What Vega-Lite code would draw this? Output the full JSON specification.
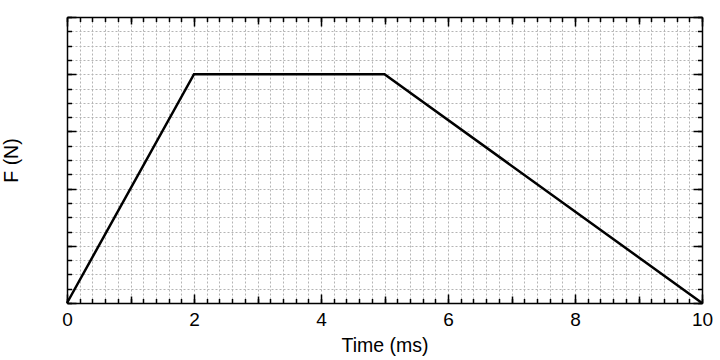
{
  "$schema": "https://vega.github.io/schema/vega-lite/v6.json",
  "autosize": "none",
  "width": 635,
  "height": 286,
  "padding": {"left": 67, "top": 17, "right": 18, "bottom": 57},
  "background": "white",
  "config": {
    "view": {"stroke": null},
    "font": "Liberation Sans",
    "axis": {
      "domainColor": "black",
      "domainWidth": 1.5,
      "tickColor": "black",
      "tickWidth": 1.5,
      "labelFont": "Liberation Sans",
      "titleFont": "Liberation Sans",
      "labelColor": "black",
      "titleColor": "black",
      "labelFontSize": 19,
      "titleFontSize": 19.5,
      "titleFontWeight": "normal",
      "labelFlush": false,
      "grid": false
    }
  },
  "data": {
    "values": [
      {"t": 0, "F": 0},
      {"t": 2, "F": 4},
      {"t": 5, "F": 4},
      {"t": 10, "F": 0}
    ]
  },
  "resolve": {"axis": {"x": "independent", "y": "independent"}},
  "layer": [
    {
      "mark": {"type": "line", "strokeOpacity": 0},
      "encoding": {
        "x": {"field": "t", "type": "quantitative", "scale": {"domain": [0, 10], "nice": false, "zero": false},
          "axis": {"orient": "bottom", "values": [0,0.2,0.4,0.6,0.8,1,1.2,1.4,1.6,1.8,2,2.2,2.4,2.6,2.8,3,3.2,3.4,3.6,3.8,4,4.2,4.4,4.6,4.8,5,5.2,5.4,5.6,5.8,6,6.2,6.4,6.6,6.8,7,7.2,7.4,7.6,7.8,8,8.2,8.4,8.6,8.8,9,9.2,9.4,9.6,9.8,10],
            "grid": true, "gridColor": "#b4b4b4", "gridDash": [2, 2], "gridWidth": 1, "tickSize": -4.5, "labels": false, "title": null, "domain": false}},
        "y": {"field": "F", "type": "quantitative", "scale": {"domain": [0, 5], "nice": false, "zero": false},
          "axis": {"orient": "left", "values": [0,0.25,0.5,0.75,1,1.25,1.5,1.75,2,2.25,2.5,2.75,3,3.25,3.5,3.75,4,4.25,4.5,4.75,5],
            "grid": true, "gridColor": "#b4b4b4", "gridDash": [2, 2], "gridWidth": 1, "tickSize": -4.5, "labels": false, "title": null, "domain": false}}
      }
    },
    {
      "mark": {"type": "line", "strokeOpacity": 0},
      "encoding": {
        "x": {"field": "t", "type": "quantitative",
          "axis": {"orient": "bottom", "values": [1,3,5,7,9], "tickSize": -7, "labels": false, "title": null, "domain": false}},
        "y": {"field": "F", "type": "quantitative",
          "axis": {"orient": "right", "values": [0,0.25,0.5,0.75,1,1.25,1.5,1.75,2,2.25,2.5,2.75,3,3.25,3.5,3.75,4,4.25,4.5,4.75,5], "tickSize": -4.5, "labels": false, "title": null, "domain": false}}
      }
    },
    {
      "mark": {"type": "line", "strokeOpacity": 0},
      "encoding": {
        "x": {"field": "t", "type": "quantitative",
          "axis": {"orient": "top", "values": [0,0.2,0.4,0.6,0.8,1,1.2,1.4,1.6,1.8,2,2.2,2.4,2.6,2.8,3,3.2,3.4,3.6,3.8,4,4.2,4.4,4.6,4.8,5,5.2,5.4,5.6,5.8,6,6.2,6.4,6.6,6.8,7,7.2,7.4,7.6,7.8,8,8.2,8.4,8.6,8.8,9,9.2,9.4,9.6,9.8,10], "tickSize": -4.5, "labels": false, "title": null, "domain": false}},
        "y": {"field": "F", "type": "quantitative",
          "axis": {"orient": "right", "values": [0,1,2,3,4,5], "tickSize": -9, "labels": false, "title": null, "domain": true}}
      }
    },
    {
      "mark": {"type": "line", "strokeOpacity": 0},
      "encoding": {
        "x": {"field": "t", "type": "quantitative",
          "axis": {"orient": "top", "values": [1,3,5,7,9], "tickSize": -7, "labels": false, "title": null, "domain": false}},
        "y": {"field": "F", "type": "quantitative", "axis": null}
      }
    },
    {
      "mark": {"type": "line", "strokeOpacity": 0},
      "encoding": {
        "x": {"field": "t", "type": "quantitative",
          "axis": {"orient": "top", "values": [0,2,4,6,8,10], "tickSize": -9, "labels": false, "title": null, "domain": true}},
        "y": {"field": "F", "type": "quantitative", "axis": null}
      }
    },
    {
      "mark": {"type": "line", "color": "black", "strokeWidth": 2.5},
      "encoding": {
        "x": {"field": "t", "type": "quantitative",
          "axis": {"orient": "bottom", "values": [0,2,4,6,8,10], "tickSize": -9, "labelPadding": 16, "title": "Time (ms)", "titlePadding": 7, "domain": true}},
        "y": {"field": "F", "type": "quantitative",
          "axis": {"orient": "left", "values": [0,1,2,3,4,5], "tickSize": -9, "labels": false, "title": "F (N)", "titlePadding": 45, "domain": true}}
      }
    }
  ]
}
